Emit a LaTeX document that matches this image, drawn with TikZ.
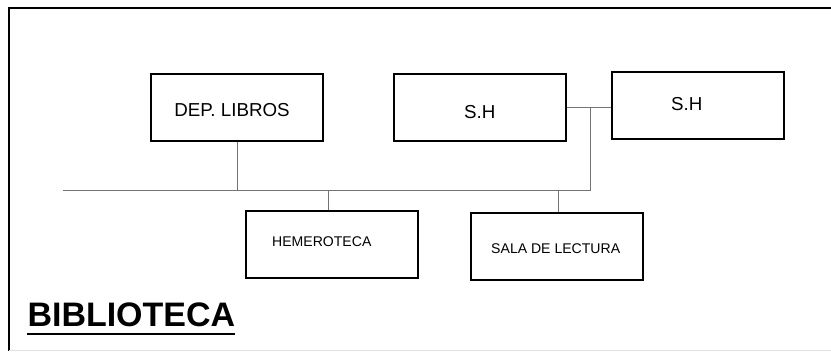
\documentclass[tikz,border=0pt]{standalone}
\usepackage{fontspec}
\setmainfont{Liberation Sans}

\tikzset{
  sala/.style={draw,line width=1.6pt,minimum width=146.8pt,minimum height=57.2pt,inner sep=0pt},
  big/.style={font=\fontsize{16}{18}\selectfont},
  small/.style={font=\fontsize{12}{14}\selectfont},
  wire/.style={draw=black!55,line width=0.8pt}
}

\begin{document}
\begin{tikzpicture}[x=0.03cm,y=-0.03cm]
        \useasboundingbox (0,0) rectangle (831,351);
        \draw[line width=1.8pt] (831,8) -- (9,8) -- (9,351);
        \draw[black!12] (9,350) -- (831,350);

        \node[sala,label={[big,shift={(-5,2)}]center:DEP. LIBROS}] (dep) at (237,107.7) {};
        \node[sala,label={[big,shift={(0,4)}]center:S.H}] (sh1) at (479.7,107.7) {};
        \node[sala,label={[big,shift={(-11,-1)}]center:S.H}] (sh2) at (697.8,105.5) {};
        \node[sala,label={[small,shift={(-10,-3)}]center:HEMEROTECA}] (hem) at (331.8,244.2) {};
        \node[sala,label={[small,shift={(-1,2)}]center:SALA DE LECTURA}] (sala) at (556.7,246.2) {};

        \coordinate (bl) at (62.7,190);
        \coordinate (j) at (590.3,107.7);

        \draw[wire] (bl) -- (j |- bl) -- (j);
        \draw[wire] (sh1.east) -- (sh1.east -| sh2.west);
        \draw[wire] (dep.south) -- (dep.south |- bl);
        \draw[wire] ([xshift=-2.7pt]hem.north) -- ([xshift=-2.7pt]hem.north |- bl);
        \draw[wire] ([xshift=1.7pt]sala.north) -- ([xshift=1.7pt]sala.north |- bl);

        \node[anchor=base west,inner sep=0pt,font=\fontsize{29}{32}\selectfont\bfseries] (bib) at (27.3,326.7) {BIBLIOTECA};
        \draw[line width=1.3pt] ([yshift=-6.4pt]bib.base west) -- ([yshift=-6.4pt]bib.base east);
      \end{tikzpicture}
\end{document}
